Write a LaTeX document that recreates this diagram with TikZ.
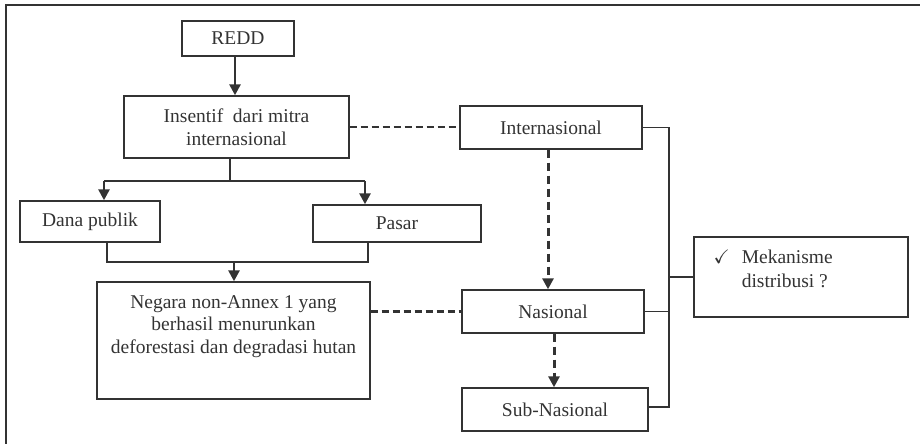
\documentclass[tikz,border=0pt]{standalone}
\usepackage{fontspec}
\usepackage{amssymb}
\setmainfont{Liberation Serif}
\usetikzlibrary{arrows.meta}
\definecolor{ink}{HTML}{333333}
\begin{document}
\begin{tikzpicture}[x=1pt,y=-1pt,
  every node/.style={font=\fontsize{19.5}{22.5}\selectfont, text=ink},
  box/.style={draw=ink, line width=1.4pt, inner sep=0pt, align=center},
  thinln/.style={draw=ink, line width=1.4pt},
  thickln/.style={draw=ink, line width=2.4pt},
  arr/.style={draw=ink, line width=2.6pt, -{Triangle[width=11pt,length=11pt]}},
  dashln/.style={draw=ink, line width=2.4pt, dash pattern=on 7pt off 4pt},
  darr/.style={draw=ink, line width=3pt, dash pattern=on 8pt off 5pt, -{Triangle[width=11pt,length=11pt]}}
]
\useasboundingbox (0,0) rectangle (920,444);
% frame (top and left only)
\draw[draw=ink, line width=1.6pt] (920,5) -- (6,5) -- (6,444);

% boxes
\node[box, minimum width=112pt, minimum height=35pt] (redd) at (238,38.5) {REDD};
\node[box, minimum width=225pt, minimum height=62pt] (ins) at (236.5,127) {Insentif\ \ dari mitra\\internasional};
\node[box, minimum width=140pt, minimum height=41pt] (dana) at (90,221.5) {Dana publik};
\node[box, minimum width=168pt, minimum height=37pt] (pasar) at (397,223.5) {Pasar};
\node[box, minimum width=273pt, minimum height=117pt] (neg) at (233.5,340.5) {};
\node[align=center, anchor=north, inner sep=0pt] (negtxt) at ([yshift=-14pt]neg.north) {Negara non-Annex 1 yang\\berhasil menurunkan\\deforestasi dan degradasi hutan};
\node[box, minimum width=182pt, minimum height=43pt] (intl) at (551,127.5) {Internasional};
\node[box, minimum width=182pt, minimum height=43pt] (nas) at (553,311.5) {Nasional};
\node[box, minimum width=186pt, minimum height=43pt] (sub) at (555,409.5) {Sub-Nasional};
\node[box, minimum width=214pt, minimum height=80pt] (mek) at (801,277) {};
\node[anchor=north west, inner sep=0pt, align=left] (mektxt) at ([xshift=20pt,yshift=-11pt]mek.north west) {$\checkmark$\hspace{12pt}\begin{tabular}[t]{@{}l@{}}Mekanisme\\[2pt]distribusi ?\end{tabular}};

% REDD -> Insentif
\draw[arr] ([xshift=-3pt]redd.south) -- ([xshift=-3pt]redd.south |- ins.north);

% Insentif -> Dana publik / Pasar
\coordinate (j1) at (230,181);
\coordinate (jl) at (104,181);
\coordinate (jr) at (365,181);
\draw[thinln] (ins.south -| j1) -- (j1);
\draw[thickln] (jl) -- (jr);
\draw[arr] (jl) -- (jl |- dana.north);
\draw[arr] (jr) -- (jr |- pasar.north);

% Dana publik / Pasar -> Negara
\coordinate (bl) at (107,262);
\coordinate (br) at (368,262);
\coordinate (bm) at (234,262);
\draw[thinln] (bl |- dana.south) -- (bl) -- (br) -- (br |- pasar.south);
\draw[arr] (bm) -- (bm |- neg.north);

% dashed links
\draw[dashln] (ins.east) -- (ins.east -| intl.west);
\draw[dashln] (neg.east |- nas.west) -- (nas.west);
\draw[darr] ([xshift=-3pt]intl.south) -- ([xshift=-3pt]intl.south |- nas.north);
\draw[darr] ([xshift=1pt]nas.south) -- ([xshift=1pt]nas.south |- sub.north);

% bracket to Mekanisme
\coordinate (v1) at (669,127.5);
\coordinate (v2) at (669,407);
\draw[thinln] (intl.east) -- (v1) -- (v2) -- (v2 -| sub.east);
\draw[thinln] (nas.east) -- (nas.east -| v1);
\draw[thinln] (mek.west -| v1) -- (mek.west);
\end{tikzpicture}
\end{document}
